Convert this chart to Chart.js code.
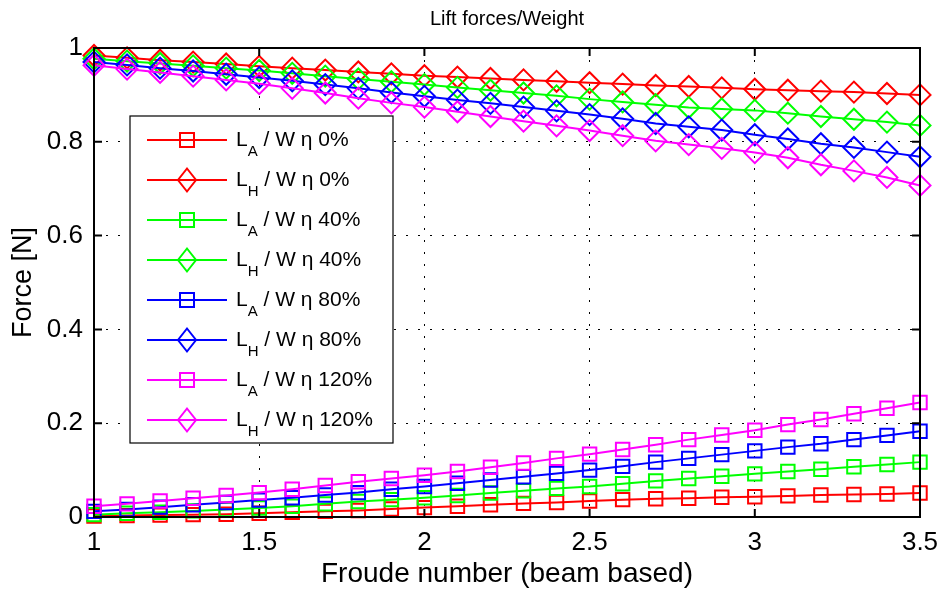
<!DOCTYPE html>
<html>
<head>
<meta charset="utf-8">
<title>Lift forces/Weight</title>
<script src="https://cdn.jsdelivr.net/npm/chart.js@4.4.1/dist/chart.umd.min.js"></script>
<style>
    html, body { margin: 0; padding: 0; background: #fff; }
    #liftChart { display: block; }
</style>
</head>
<body>
<canvas id="liftChart" width="943" height="591"></canvas>
<script>
var froude = [1.0, 1.1, 1.2, 1.3, 1.4, 1.5, 1.6, 1.7, 1.8, 1.9, 2.0, 2.1, 2.2,
              2.3, 2.4, 2.5, 2.6, 2.7, 2.8, 2.9, 3.0, 3.1, 3.2, 3.3, 3.4, 3.5];

var xTicks = [1, 1.5, 2, 2.5, 3, 3.5];
var yTicks = [0, 0.2, 0.4, 0.6, 0.8, 1];

var etaLabels = ['0%', '40%', '80%', '120%'];

// L_A / W
var liftA0   = [0.002, 0.003, 0.004, 0.005, 0.006, 0.008, 0.010, 0.012, 0.014, 0.017, 0.020, 0.023, 0.026,
                0.029, 0.031, 0.034, 0.037, 0.039, 0.040, 0.042, 0.043, 0.045, 0.047, 0.048, 0.049, 0.051];
var liftA40  = [0.005, 0.008, 0.010, 0.013, 0.016, 0.019, 0.023, 0.028, 0.033, 0.037, 0.041, 0.046, 0.051,
                0.056, 0.061, 0.065, 0.071, 0.077, 0.082, 0.087, 0.092, 0.097, 0.102, 0.107, 0.112, 0.117];
var liftA80  = [0.012, 0.016, 0.021, 0.026, 0.031, 0.036, 0.041, 0.047, 0.052, 0.059, 0.065, 0.072, 0.079,
                0.086, 0.093, 0.100, 0.108, 0.117, 0.125, 0.133, 0.141, 0.149, 0.156, 0.165, 0.174, 0.183];
var liftA120 = [0.023, 0.028, 0.034, 0.040, 0.046, 0.052, 0.059, 0.067, 0.075, 0.082, 0.089, 0.097, 0.106,
                0.115, 0.125, 0.134, 0.144, 0.154, 0.165, 0.175, 0.185, 0.197, 0.208, 0.220, 0.232, 0.244];

// L_H / W
var liftH0   = [0.984, 0.979, 0.974, 0.970, 0.966, 0.961, 0.957, 0.953, 0.949, 0.945, 0.941, 0.938, 0.935,
                0.932, 0.929, 0.926, 0.923, 0.920, 0.918, 0.915, 0.912, 0.910, 0.908, 0.906, 0.903, 0.900];
var liftH40  = [0.977, 0.972, 0.967, 0.962, 0.957, 0.952, 0.946, 0.940, 0.934, 0.928, 0.922, 0.916, 0.910,
                0.904, 0.898, 0.891, 0.885, 0.879, 0.873, 0.870, 0.867, 0.861, 0.854, 0.848, 0.842, 0.835];
var liftH80  = [0.970, 0.964, 0.957, 0.951, 0.944, 0.937, 0.930, 0.922, 0.914, 0.905, 0.897, 0.889, 0.882,
                0.874, 0.866, 0.858, 0.849, 0.839, 0.832, 0.825, 0.815, 0.806, 0.796, 0.788, 0.778, 0.768];
var liftH120 = [0.963, 0.955, 0.948, 0.940, 0.932, 0.924, 0.914, 0.904, 0.893, 0.883, 0.874, 0.864, 0.854,
                0.844, 0.834, 0.824, 0.813, 0.802, 0.794, 0.786, 0.777, 0.766, 0.751, 0.738, 0.724, 0.707];

var fontFamily = "'Liberation Sans', Arial, Helvetica, sans-serif";

document.addEventListener('DOMContentLoaded', function() {
    liftChart();
});

function buildDatasets() {

    let colors = ['#ff0000', '#00ff00', '#0000ff', '#ff00ff'];
    let pairs = [[liftA0, liftH0], [liftA40, liftH40], [liftA80, liftH80], [liftA120, liftH120]];
    let datasets = [];

    pairs.forEach((pair, i) => {
        ['A', 'H'].forEach((sub, j) => {
            datasets.push({
                label: 'L' + sub + ' / W η ' + etaLabels[i],
                sub: sub,
                rest: ' / W η ' + etaLabels[i],
                data: froude.map((x, k) => ({x: x, y: pair[j][k]})),
                borderColor: colors[i],
                borderWidth: 2,
                backgroundColor: 'transparent',
                pointStyle: j === 0 ? 'rect' : 'rectRot',
                pointRadius: j === 0 ? 9.5 : 10.5,
                pointBorderWidth: 2,
                pointBorderColor: colors[i],
                pointBackgroundColor: 'transparent',
                tension: 0,
                fill: false,
                clip: false,
                order: 8 - datasets.length
            });
        });
    });

    return datasets;
}

// caja de ejes y marcas hacia adentro (estilo matlab)
var axisBox = {
    id: 'axisBox',
    afterDatasetsDraw(chart) {
        let ctx = chart.ctx;
        let area = chart.chartArea;
        let sx = chart.scales.x;
        let sy = chart.scales.y;
        let len = 8;

        ctx.save();
        ctx.strokeStyle = '#000';
        ctx.lineWidth = 2;
        ctx.strokeRect(area.left, area.top, area.right - area.left, area.bottom - area.top);

        ctx.beginPath();
        xTicks.forEach(v => {
            let px = sx.getPixelForValue(v);
            ctx.moveTo(px, area.bottom);
            ctx.lineTo(px, area.bottom - len);
            ctx.moveTo(px, area.top);
            ctx.lineTo(px, area.top + len);
        });
        yTicks.forEach(v => {
            let py = sy.getPixelForValue(v);
            ctx.moveTo(area.left, py);
            ctx.lineTo(area.left + len, py);
            ctx.moveTo(area.right, py);
            ctx.lineTo(area.right - len, py);
        });
        ctx.stroke();
        ctx.restore();
    }
};

// leyenda con subindices
var subLegend = {
    id: 'subLegend',
    afterDraw(chart) {
        let ctx = chart.ctx;
        let area = chart.chartArea;
        let sets = chart.data.datasets;
        let left = area.left + 36;
        let top = area.top + 68;
        let rowH = 40;
        let width = 263;
        let height = 24 + rowH * (sets.length - 1) + 23;

        ctx.save();
        ctx.fillStyle = '#fff';
        ctx.fillRect(left, top, width, height);
        ctx.strokeStyle = '#000';
        ctx.lineWidth = 1.2;
        ctx.strokeRect(left, top, width, height);

        sets.forEach((ds, i) => {
            let y = top + 24 + i * rowH;
            let cx = left + 57;

            ctx.strokeStyle = ds.borderColor;
            ctx.lineWidth = 2;
            ctx.beginPath();
            ctx.moveTo(left + 17, y);
            ctx.lineTo(left + 97, y);
            ctx.stroke();

            ctx.beginPath();
            if (ds.pointStyle === 'rect') {
                let s = 7;
                ctx.rect(cx - s, y - s, 2 * s, 2 * s);
            } else {
                let w = 9, h = 11.5;
                ctx.moveTo(cx, y - h);
                ctx.lineTo(cx + w, y);
                ctx.lineTo(cx, y + h);
                ctx.lineTo(cx - w, y);
                ctx.closePath();
            }
            ctx.stroke();

            let tx = left + 106;
            ctx.fillStyle = '#000';
            ctx.textBaseline = 'alphabetic';
            ctx.textAlign = 'left';
            ctx.font = '21px ' + fontFamily;
            ctx.fillText('L', tx, y + 6);
            tx += ctx.measureText('L').width;
            ctx.font = '15px ' + fontFamily;
            ctx.fillText(ds.sub, tx, y + 16);
            tx += ctx.measureText(ds.sub).width;
            ctx.font = '21px ' + fontFamily;
            ctx.fillText(ds.rest, tx, y + 6);
        });
        ctx.restore();
    }
};

function liftChart() {

    let ctx = document.getElementById('liftChart').getContext('2d');

    new Chart(ctx, {
        type: 'line',
        data: {
            datasets: buildDatasets()
        },
        options: {
            responsive: false,
            animation: false,
            events: [],
            devicePixelRatio: 1,
            layout: {
                padding: {top: 0, right: 23, bottom: 0, left: 0}
            },
            plugins: {
                legend: {display: false},
                tooltip: {enabled: false},
                title: {
                    display: true,
                    text: 'Lift forces/Weight',
                    fullSize: false,
                    color: '#000',
                    font: {family: fontFamily, size: 20, weight: 'normal'},
                    padding: {top: 7, bottom: 17}
                }
            },
            scales: {
                x: {
                    type: 'linear',
                    min: 1,
                    max: 3.5,
                    afterBuildTicks: axis => {
                        axis.ticks = xTicks.map(v => ({value: v}));
                    },
                    afterFit: scale => {
                        scale.height = 74;
                        scale.paddingLeft = 10;
                        scale.paddingRight = 10;
                    },
                    grid: {
                        color: '#000',
                        lineWidth: 1,
                        drawTicks: false
                    },
                    border: {display: false, dash: [2, 10]},
                    ticks: {
                        color: '#000',
                        padding: 10,
                        maxRotation: 0,
                        font: {family: fontFamily, size: 26},
                        callback: v => String(v)
                    },
                    title: {
                        display: true,
                        text: 'Froude number (beam based)',
                        color: '#000',
                        font: {family: fontFamily, size: 28},
                        padding: {top: 0, bottom: 0}
                    }
                },
                y: {
                    type: 'linear',
                    min: 0,
                    max: 1,
                    afterBuildTicks: axis => {
                        axis.ticks = yTicks.map(v => ({value: v}));
                    },
                    afterFit: scale => {
                        scale.width = 94;
                    },
                    grid: {
                        color: '#000',
                        lineWidth: 1,
                        drawTicks: false
                    },
                    border: {display: false, dash: [2, 10]},
                    ticks: {
                        color: '#000',
                        padding: 11,
                        font: {family: fontFamily, size: 26},
                        callback: v => String(v)
                    },
                    title: {
                        display: true,
                        text: 'Force [N]',
                        color: '#000',
                        font: {family: fontFamily, size: 27},
                        padding: {top: 7, bottom: 0}
                    }
                }
            }
        },
        plugins: [axisBox, subLegend]
    });
}
</script>
</body>
</html>
